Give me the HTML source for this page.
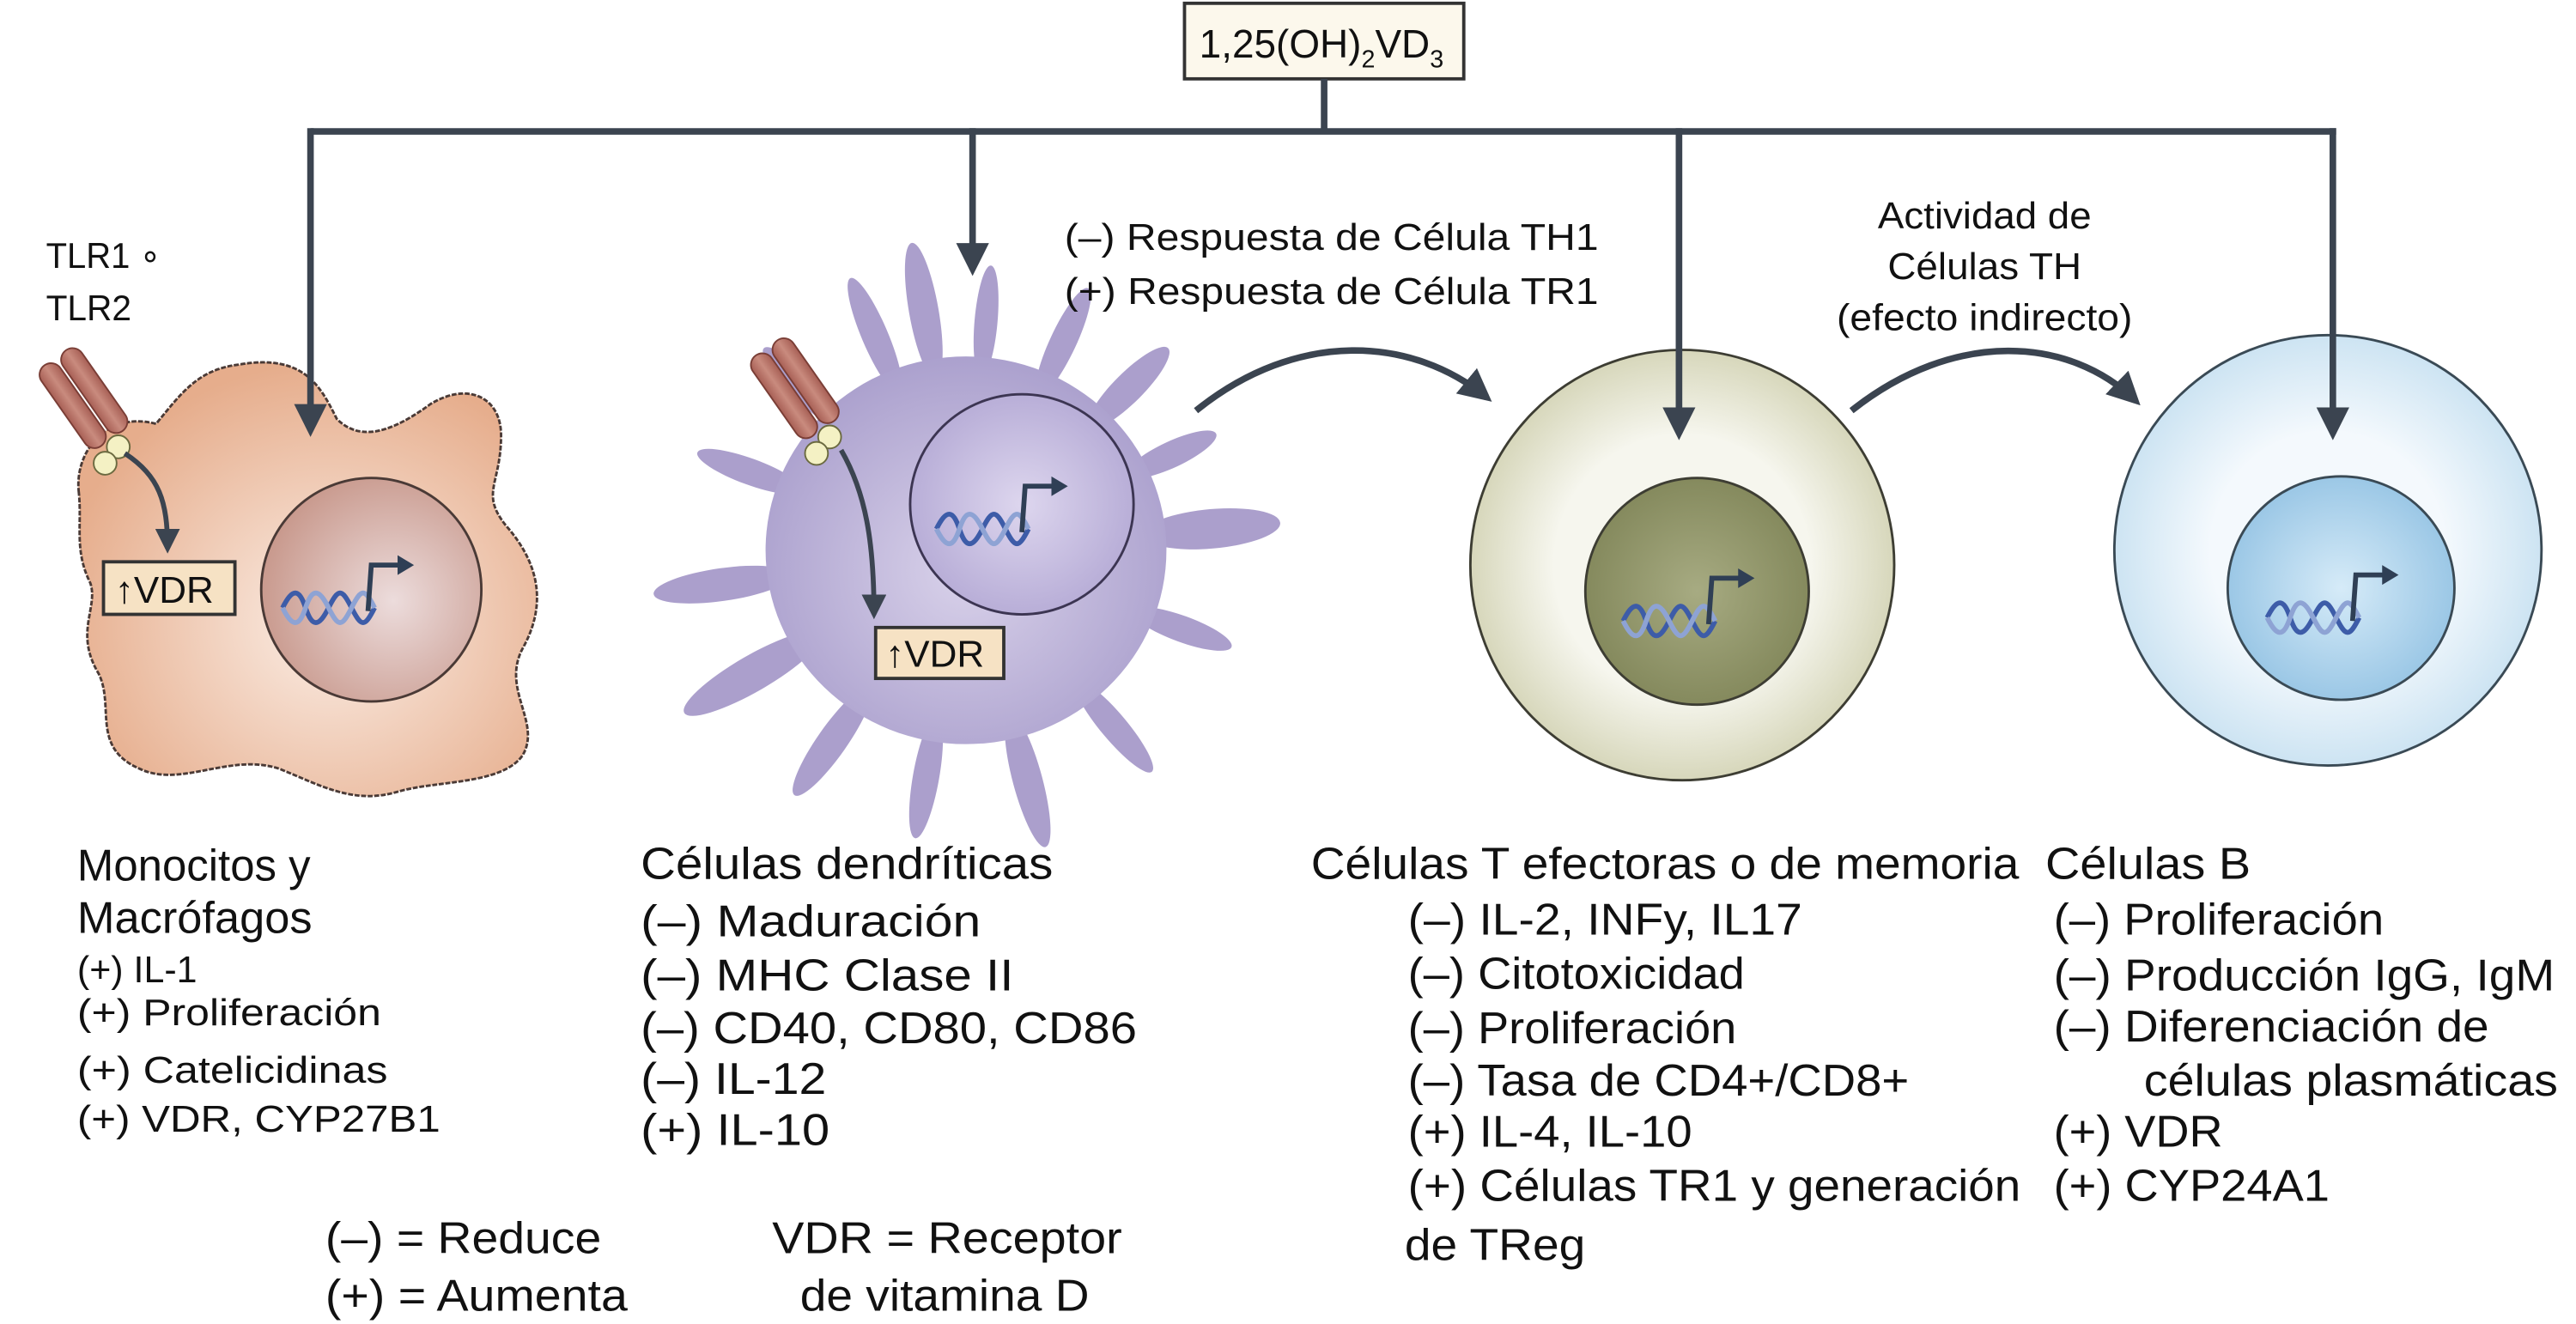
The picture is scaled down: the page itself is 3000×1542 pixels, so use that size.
<!DOCTYPE html>
<html><head><meta charset="utf-8"><style>
html,body{margin:0;padding:0;background:#fff;}
svg{display:block;}
text{font-family:"Liberation Sans",Arial,sans-serif;fill:#111;}
</style></head><body>
<svg width="3000" height="1542" viewBox="0 0 1568 806" preserveAspectRatio="none" xmlns="http://www.w3.org/2000/svg">
<defs>
<radialGradient id="gm" cx="0.55" cy="0.6" r="0.6"><stop offset="0" stop-color="#fbeee6"/><stop offset="1" stop-color="#e6ad8c"/></radialGradient>
<radialGradient id="gmn" cx="0.6" cy="0.55" r="0.6"><stop offset="0" stop-color="#ecdcdc"/><stop offset="1" stop-color="#c99a8e"/></radialGradient>
<radialGradient id="gd" cx="0.5" cy="0.55" r="0.6"><stop offset="0" stop-color="#d9d2ea"/><stop offset="1" stop-color="#a79ccb"/></radialGradient>
<radialGradient id="gdn" cx="0.5" cy="0.5" r="0.6"><stop offset="0" stop-color="#ddd6ee"/><stop offset="1" stop-color="#b1a6d3"/></radialGradient>
<radialGradient id="gt" cx="0.5" cy="0.5" r="0.55"><stop offset="0.55" stop-color="#f6f6ee"/><stop offset="1" stop-color="#cfcfae"/></radialGradient>
<radialGradient id="gtn" cx="0.5" cy="0.5" r="0.6"><stop offset="0" stop-color="#a7ab82"/><stop offset="1" stop-color="#7e8356"/></radialGradient>
<radialGradient id="gb" cx="0.5" cy="0.5" r="0.55"><stop offset="0.5" stop-color="#f4f9fd"/><stop offset="1" stop-color="#c4dff0"/></radialGradient>
<radialGradient id="gbn" cx="0.5" cy="0.5" r="0.6"><stop offset="0" stop-color="#d6ebf8"/><stop offset="1" stop-color="#8fc0e2"/></radialGradient>
<linearGradient id="gr" x1="0" x2="1"><stop offset="0" stop-color="#a75f55"/><stop offset="0.5" stop-color="#c98b7e"/><stop offset="1" stop-color="#a75f55"/></linearGradient>
<marker id="ah" viewBox="0 0 10 10" refX="8" refY="5" markerWidth="5" markerHeight="5" orient="auto"><path d="M0,0 L10,5 L0,10 Z" fill="#3b4450"/></marker>
<g id="dna"><path d="M0,10 C6,-2 10,-2 14,10 S22,22 28,10 S36,-2 42,10 S50,22 56,10" fill="none" stroke="#3d5ca8" stroke-width="3"/><path d="M0,10 C6,22 10,22 14,10 S22,-2 28,10 S36,22 42,10 S50,-2 56,10" fill="none" stroke="#8ea3d4" stroke-width="3"/><path d="M52,12 L54,-16 L72,-16" fill="none" stroke="#2f3f55" stroke-width="3"/><path d="M70,-22 L80,-16 L70,-10 Z" fill="#2f3f55"/></g>
<g id="rec"><g transform="rotate(-35)"><rect x="-16" y="-62" width="14" height="60" rx="7" fill="url(#gr)" stroke="#7a3e36" stroke-width="1"/><rect x="0" y="-62" width="14" height="60" rx="7" fill="url(#gr)" stroke="#7a3e36" stroke-width="1"/></g><circle cx="2" cy="4" r="7" fill="#f4f1c4" stroke="#6b6a40"/><circle cx="-6" cy="14" r="7" fill="#f4f1c4" stroke="#6b6a40"/></g>
</defs>

<rect x="721" y="2" width="170" height="46" fill="#fcf8ec" stroke="#333" stroke-width="2"/>
<text x="730" y="35" font-size="24">1,25(OH)<tspan font-size="15" dy="6">2</tspan><tspan dy="-6">VD</tspan><tspan font-size="15" dy="6">3</tspan></text>

<text x="28" y="163" font-size="22" textLength="70" lengthAdjust="spacingAndGlyphs">TLR1 ∘</text>
<text x="28" y="195" font-size="22" textLength="52" lengthAdjust="spacingAndGlyphs">TLR2</text>

<!-- macrophage -->
<path d="M48,300 C45,275 65,250 95,258 C110,240 120,225 145,222 C185,215 195,235 205,255 C220,270 240,262 262,246 C285,232 305,242 305,265 C305,295 292,300 308,320 C330,345 332,370 318,395 C305,420 330,440 318,460 C305,478 265,475 242,482 C215,490 195,478 170,468 C140,458 110,480 85,468 C55,455 70,430 60,410 C45,385 60,370 55,355 C45,335 50,320 48,300 Z" fill="url(#gm)" stroke="#4a3a36" stroke-width="1.5" stroke-dasharray="3,1"/>
<ellipse cx="226" cy="359" rx="67" ry="68" fill="url(#gmn)" stroke="#4a3a36" stroke-width="1.5"/>
<use href="#dna" x="172" y="360"/>
<use href="#rec" x="70" y="268"/>
<path d="M76,276 C97,290 102,305 102,334" fill="none" stroke="#3b4450" stroke-width="3" marker-end="url(#ah)"/>
<rect x="63" y="342" width="80" height="32" fill="#f6e2c4" stroke="#333" stroke-width="2"/>
<text x="70" y="367" font-size="23">↑VDR</text>

<!-- dendritic -->
<g fill="#ab9fcc" transform="translate(588,335)">
<g transform="rotate(-10)"><ellipse cx="0" cy="-148" rx="9" ry="42"/></g>
<g transform="rotate(5)"><ellipse cx="0" cy="-140" rx="7" ry="34"/></g>
<g transform="rotate(25)"><ellipse cx="0" cy="-140" rx="8" ry="36"/></g>
<g transform="rotate(45)"><ellipse cx="0" cy="-140" rx="9" ry="34"/></g>
<g transform="rotate(65)"><ellipse cx="0" cy="-138" rx="8" ry="30"/></g>
<g transform="rotate(85)"><ellipse cx="0" cy="-150" rx="12" ry="42"/></g>
<g transform="rotate(110)"><ellipse cx="0" cy="-140" rx="8" ry="32"/></g>
<g transform="rotate(140)"><ellipse cx="0" cy="-140" rx="8" ry="36"/></g>
<g transform="rotate(165)"><ellipse cx="0" cy="-145" rx="9" ry="42"/></g>
<g transform="rotate(190)"><ellipse cx="0" cy="-140" rx="8" ry="38"/></g>
<g transform="rotate(215)"><ellipse cx="0" cy="-142" rx="9" ry="40"/></g>
<g transform="rotate(240)"><ellipse cx="0" cy="-150" rx="11" ry="48"/></g>
<g transform="rotate(262)"><ellipse cx="0" cy="-150" rx="10" ry="42"/></g>
<g transform="rotate(290)"><ellipse cx="0" cy="-140" rx="8" ry="34"/></g>
<g transform="rotate(315)"><ellipse cx="0" cy="-140" rx="8" ry="34"/></g>
<g transform="rotate(337)"><ellipse cx="0" cy="-142" rx="8" ry="38"/></g>
</g>
<ellipse cx="588" cy="335" rx="122" ry="118" fill="url(#gd)"/>
<ellipse cx="622" cy="307" rx="68" ry="67" fill="url(#gdn)" stroke="#3c3552" stroke-width="1.5"/>
<use href="#dna" x="570" y="312"/>
<use href="#rec" x="503" y="262"/>
<path d="M512,274 C527,300 532,330 532,374" fill="none" stroke="#3b4450" stroke-width="3" marker-end="url(#ah)"/>
<rect x="533" y="382" width="78" height="31" fill="#f6e2c4" stroke="#333" stroke-width="2"/>
<text x="539" y="406" font-size="23">↑VDR</text>

<text x="648" y="152" font-size="23" textLength="325" lengthAdjust="spacingAndGlyphs">(–) Respuesta de Célula TH1</text>
<text x="648" y="185" font-size="23" textLength="325" lengthAdjust="spacingAndGlyphs">(+) Respuesta de Célula TR1</text>

<!-- T cell -->
<ellipse cx="1024" cy="344" rx="129" ry="131" fill="url(#gt)" stroke="#3d3d33" stroke-width="1.5"/>
<ellipse cx="1033" cy="360" rx="68" ry="69" fill="url(#gtn)" stroke="#3d3d33" stroke-width="1.5"/>
<use href="#dna" x="988" y="368"/>

<text x="1208" y="139" font-size="23" text-anchor="middle" textLength="130" lengthAdjust="spacingAndGlyphs">Actividad de</text>
<text x="1208" y="170" font-size="23" text-anchor="middle" textLength="118" lengthAdjust="spacingAndGlyphs">Células TH</text>
<text x="1208" y="201" font-size="23" text-anchor="middle" textLength="180" lengthAdjust="spacingAndGlyphs">(efecto indirecto)</text>

<!-- B cell -->
<ellipse cx="1417" cy="335" rx="130" ry="131" fill="url(#gb)" stroke="#3a4a55" stroke-width="1.5"/>
<ellipse cx="1425" cy="358" rx="69" ry="68" fill="url(#gbn)" stroke="#3a4a55" stroke-width="1.5"/>
<use href="#dna" x="1380" y="366"/>

<!-- connectors on top -->
<g stroke="#3b4450" stroke-width="4" fill="none">
<path d="M806,48 V80"/><path d="M189,80 H1422"/>
<path d="M189,78 V262" marker-end="url(#ah)"/>
<path d="M592,78 V164" marker-end="url(#ah)"/>
<path d="M1022,78 V264" marker-end="url(#ah)"/>
<path d="M1420,78 V264" marker-end="url(#ah)"/>
<path d="M728,250 C790,200 860,205 905,242" marker-end="url(#ah)"/>
<path d="M1127,250 C1190,200 1260,205 1300,244" marker-end="url(#ah)"/>
</g>

<!-- bottom texts -->
<g font-size="27">
<text x="47" y="536" textLength="142" lengthAdjust="spacingAndGlyphs">Monocitos y</text>
<text x="47" y="568" textLength="143" lengthAdjust="spacingAndGlyphs">Macrófagos</text>
</g>
<g font-size="23">
<text x="47" y="598" textLength="73" lengthAdjust="spacingAndGlyphs">(+)  IL-1</text>
<text x="47" y="624" textLength="185" lengthAdjust="spacingAndGlyphs">(+)  Proliferación</text>
<text x="47" y="659" textLength="189" lengthAdjust="spacingAndGlyphs">(+)  Catelicidinas</text>
<text x="47" y="689" textLength="221" lengthAdjust="spacingAndGlyphs">(+)  VDR, CYP27B1</text>
</g>
<g font-size="27">
<text x="390" y="535" textLength="251" lengthAdjust="spacingAndGlyphs">Células dendríticas</text>
<text x="390" y="570" textLength="207" lengthAdjust="spacingAndGlyphs">(–)  Maduración</text>
<text x="390" y="603" textLength="227" lengthAdjust="spacingAndGlyphs">(–)  MHC Clase II</text>
<text x="390" y="635" textLength="302" lengthAdjust="spacingAndGlyphs">(–) CD40, CD80, CD86</text>
<text x="390" y="666" textLength="113" lengthAdjust="spacingAndGlyphs">(–) IL-12</text>
<text x="390" y="697" textLength="115" lengthAdjust="spacingAndGlyphs">(+) IL-10</text>

<text x="798" y="535" textLength="431" lengthAdjust="spacingAndGlyphs">Células T efectoras o de memoria</text>
<text x="857" y="569" textLength="240" lengthAdjust="spacingAndGlyphs">(–) IL-2, INFy, IL17</text>
<text x="857" y="602" textLength="205" lengthAdjust="spacingAndGlyphs">(–) Citotoxicidad</text>
<text x="857" y="635" textLength="200" lengthAdjust="spacingAndGlyphs">(–) Proliferación</text>
<text x="857" y="667" textLength="305" lengthAdjust="spacingAndGlyphs">(–) Tasa de CD4+/CD8+</text>
<text x="857" y="698" textLength="173" lengthAdjust="spacingAndGlyphs">(+) IL-4, IL-10</text>
<text x="857" y="731" textLength="373" lengthAdjust="spacingAndGlyphs">(+) Células TR1 y generación</text>
<text x="855" y="767" textLength="110" lengthAdjust="spacingAndGlyphs">de TReg</text>

<text x="1245" y="535" textLength="125" lengthAdjust="spacingAndGlyphs">Células B</text>
<text x="1250" y="569" textLength="201" lengthAdjust="spacingAndGlyphs">(–) Proliferación</text>
<text x="1250" y="603" textLength="305" lengthAdjust="spacingAndGlyphs">(–) Producción IgG, IgM</text>
<text x="1250" y="634" textLength="265" lengthAdjust="spacingAndGlyphs">(–) Diferenciación de</text>
<text x="1305" y="667" textLength="252" lengthAdjust="spacingAndGlyphs">células plasmáticas</text>
<text x="1250" y="698" textLength="103" lengthAdjust="spacingAndGlyphs">(+) VDR</text>
<text x="1250" y="731" textLength="168" lengthAdjust="spacingAndGlyphs">(+) CYP24A1</text>

<text x="198" y="763" textLength="168" lengthAdjust="spacingAndGlyphs">(–) = Reduce</text>
<text x="198" y="798" textLength="184" lengthAdjust="spacingAndGlyphs">(+) = Aumenta</text>
<text x="470" y="763" textLength="213" lengthAdjust="spacingAndGlyphs">VDR = Receptor</text>
<text x="487" y="798" textLength="176" lengthAdjust="spacingAndGlyphs">de vitamina D</text>
</g>
</svg>
</body></html>
